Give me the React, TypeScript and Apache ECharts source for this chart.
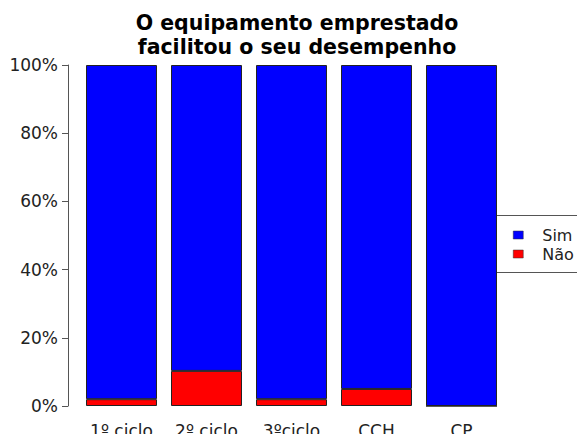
import React, { useEffect, useRef } from "react";
import * as echarts from "echarts";

const categories = ["1º ciclo", "2º ciclo", "3ºciclo", "CCH", "CP"];
const naoValues = [2, 10.3, 2, 5, 0];
const simValues = [98, 89.7, 98, 95, 100];
const yTicks = [0, 20, 40, 60, 80, 100];

export default function App() {
  const ref = useRef<HTMLDivElement>(null);
  useEffect(() => {
    if (!ref.current) return;
    const chart = echarts.init(ref.current, null, { renderer: "svg" });
    const font = "DejaVu Sans";
    chart.setOption({
      animation: false,
      backgroundColor: "#ffffff",
      title: {
        text: "O equipamento emprestado\nfacilitou o seu desempenho",
        left: 292,
        top: 6,
        textAlign: "center",
        textStyle: { fontFamily: font, fontSize: 20.5, fontWeight: "bold", color: "#000", lineHeight: 24 },
      },
      legend: {
        orient: "vertical",
        left: 508,
        top: 220.5,
        itemWidth: 10,
        itemHeight: 8,
        itemGap: 0,
        icon: "rect",
        data: ["Sim", "Não"],
        itemStyle: { borderColor: "#333", borderWidth: 0.5 },
        textStyle: { fontFamily: font, fontSize: 16, color: "#222", padding: [0, 0, 0, 14], lineHeight: 19 },
      },
      graphic: [
        { type: "line", shape: { x1: 497, y1: 215.5, x2: 577, y2: 215.5 }, style: { stroke: "#555", lineWidth: 1 } },
        { type: "line", shape: { x1: 497, y1: 272.5, x2: 577, y2: 272.5 }, style: { stroke: "#555", lineWidth: 1 } },
      ],
      grid: { left: 79, width: 425, top: 65, bottom: 28, containLabel: false, outerBoundsMode: "none" },
      xAxis: {
        type: "category",
        data: categories,
        axisLine: { show: false },
        axisTick: { show: false },
        axisLabel: { fontFamily: font, fontSize: 17, color: "#222", margin: 16 },
      },
      yAxis: {
        type: "value",
        min: 0,
        max: 100,
        interval: 20,
        offset: 11,
        axisLine: { show: true, lineStyle: { color: "#555" } },
        axisTick: { show: true, inside: false, length: 6, lineStyle: { color: "#555" } },
        splitLine: { show: false },
        axisLabel: {
          fontFamily: font,
          fontSize: 17,
          color: "#222",
          margin: 10,
          formatter: (v: number) => (yTicks.includes(v) ? v + "%" : ""),
        },
      },
      series: [
        {
          name: "Não",
          type: "bar",
          stack: "s",
          data: naoValues,
          barWidth: "83.5%",
          itemStyle: { color: "#ff0000", borderColor: "#222", borderWidth: 1 },
        },
        {
          name: "Sim",
          type: "bar",
          stack: "s",
          data: simValues,
          barWidth: "83.5%",
          itemStyle: { color: "#0000ff", borderColor: "#222", borderWidth: 1 },
        },
      ],
    });
    return () => chart.dispose();
  }, []);
  return <div ref={ref} style={{ width: 577, height: 434, position: "absolute", left: 0, top: 0 }} />;
}
